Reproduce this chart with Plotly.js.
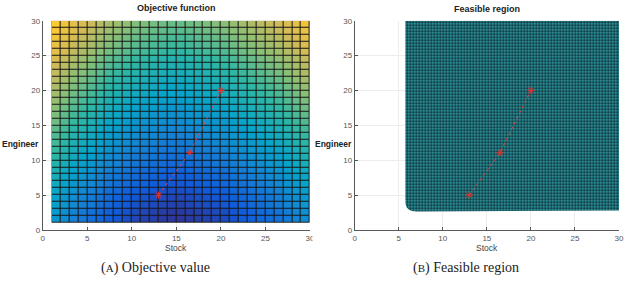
<!DOCTYPE html>
<html><head><meta charset="utf-8">
<script src="https://cdn.plot.ly/plotly-3.0.1.min.js"></script>
<style>html,body{margin:0;padding:0;background:#fff}#c{width:626px;height:287px}</style>
</head><body><div id="c"></div>
<script>
// cell edges of the surface grid
const stockEdges = [1,2,3,4,5,6,7,8,9,10,11,12,13,14,15,16,17,18,19,20,21,22,23,24,25,26,27,28,29,30];
const engineerEdges = [1,2,3,4,5,6,7,8,9,10,11,12,13,14,15,16,17,18,19,20,21,22,23,24,25,26,27,28,29,30];
// objective value per cell (colour level 0-100), rows = engineer 1..29
const objective = [
[33,29,25,22,19,16,13,11,9,7,6,5,4,3,3,4,5,6,7,8,10,12,14,16,18,20,23,26,29],
[34,30,26,23,20,17,14,12,10,8,7,6,5,4,4,5,6,7,8,9,11,13,15,17,19,21,24,27,30],
[36,32,28,25,22,19,16,14,12,10,9,8,7,6,6,7,8,9,10,11,13,15,17,19,21,23,26,29,32],
[37,33,29,26,23,20,17,15,13,11,10,9,8,7,7,8,9,10,11,12,14,16,18,20,22,24,27,30,33],
[39,35,31,28,25,22,19,17,15,13,12,11,10,9,9,10,11,12,13,14,16,18,20,22,24,26,29,32,35],
[41,37,33,30,27,24,21,19,17,15,14,13,12,11,11,12,13,14,15,16,18,20,22,24,26,28,31,34,37],
[43,39,35,32,29,26,23,21,19,17,16,15,14,13,13,14,15,16,17,18,20,22,24,26,28,30,33,36,39],
[45,41,37,34,31,28,25,23,21,19,18,17,16,15,15,16,17,18,19,20,22,24,26,28,30,32,35,38,41],
[47,43,39,36,33,30,27,25,23,21,20,19,18,17,17,18,19,20,21,22,24,26,28,30,32,34,37,40,43],
[49,45,41,38,35,32,29,27,25,23,22,21,20,19,19,20,21,22,23,24,26,28,30,32,34,36,39,42,45],
[51,47,43,40,37,34,31,29,27,25,24,23,22,21,21,22,23,24,25,26,28,30,32,34,36,38,41,44,47],
[53,49,45,42,39,36,33,31,29,27,26,25,24,23,23,24,25,26,27,28,30,32,34,36,38,40,43,46,49],
[55,51,47,44,41,38,35,33,31,29,28,27,26,25,25,26,27,28,29,30,32,34,36,38,40,42,45,48,51],
[57,53,49,46,43,40,37,35,33,31,30,29,28,27,27,28,29,30,31,32,34,36,38,40,42,44,47,50,53],
[59,55,51,48,45,42,39,37,35,33,32,31,30,29,29,30,31,32,33,34,36,38,40,42,44,46,49,52,55],
[61,57,53,50,47,44,41,39,37,35,34,33,32,31,31,32,33,34,35,36,38,40,42,44,46,48,51,54,57],
[63,59,55,52,49,46,43,41,39,37,36,35,34,33,33,34,35,36,37,38,40,42,44,46,48,50,53,56,59],
[65,61,57,54,51,48,45,43,41,39,38,37,36,35,35,36,37,38,39,40,42,44,46,48,50,52,55,58,61],
[67,63,59,56,53,50,47,45,43,41,40,39,38,37,37,38,39,40,41,42,44,46,48,50,52,54,57,60,63],
[69,65,61,58,55,52,49,47,45,43,42,41,40,39,39,40,41,42,43,44,46,48,50,52,54,56,59,62,65],
[71,67,63,60,57,54,51,49,47,45,44,43,42,41,41,42,43,44,45,46,48,50,52,54,56,58,61,64,67],
[73,69,65,62,59,56,53,51,49,47,46,45,44,43,43,44,45,46,47,48,50,52,54,56,58,60,63,66,69],
[75,71,67,64,61,58,55,53,51,49,48,47,46,45,45,46,47,48,49,50,52,54,56,58,60,62,65,68,71],
[77,73,69,66,63,60,57,55,53,51,50,49,48,47,47,48,49,50,51,52,54,56,58,60,62,64,67,70,73],
[80,76,72,69,66,63,60,58,56,54,53,52,51,50,50,51,52,53,54,55,57,59,61,63,65,67,70,73,76],
[82,78,74,71,68,65,62,60,58,56,55,54,53,52,52,53,54,55,56,57,59,61,63,65,67,69,72,75,78],
[84,80,76,73,70,67,64,62,60,58,57,56,55,54,54,55,56,57,58,59,61,63,65,67,69,71,74,77,80],
[86,82,78,75,72,69,66,64,62,60,59,58,57,56,56,57,58,59,60,61,63,65,67,69,71,73,76,79,82],
[88,84,80,77,74,71,68,66,64,62,61,60,59,58,58,59,60,61,62,63,65,67,69,71,73,75,78,81,84]
];
// optimisation path
const pathStock = [13, 16.5, 20];
const pathEngineer = [5, 11.1, 20];
// feasible region boundary
const feasStock    = [5.75, 30, 30, 25, 20, 15, 10, 8, 7, 6.5, 6.15, 5.9, 5.78, 5.75];
const feasEngineer = [30, 30, 2.8, 2.77, 2.74, 2.7, 2.65, 2.62, 2.64, 2.72, 2.92, 3.25, 3.7, 4.5];
// ticks
const tickVals = [0, 5, 10, 15, 20, 25, 30];
const tickLabels = ['0', '5', '10', '15', '20', '25', '30'];

const parula = [[0,'#352a87'],[0.125,'#0f5cdd'],[0.25,'#1481d6'],[0.375,'#06a4ca'],[0.5,'#2eb7a4'],[0.625,'#87bf77'],[0.75,'#d1bb59'],[0.875,'#fec832'],[1,'#f9fb0e']];
const FONT = 'Liberation Sans, Arial, sans-serif';
const W = 626, H = 287;
const px = v => v / W, py = v => 1 - v / H;

const traces = [
  {type:'heatmap', x:[stockEdges[0], stockEdges[stockEdges.length-1]], y:[engineerEdges[0], engineerEdges[engineerEdges.length-1]], z:[[1]],
   colorscale:[[0,'#161616'],[1,'#161616']], showscale:false, hoverinfo:'skip', xaxis:'x', yaxis:'y'},
  {type:'heatmap', x:stockEdges, y:engineerEdges, z:objective, colorscale:parula, zmin:0, zmax:100,
   xgap:1, ygap:1, showscale:false, xaxis:'x', yaxis:'y'},
  {type:'scatter', mode:'lines+markers', x:pathStock, y:pathEngineer, xaxis:'x', yaxis:'y',
   line:{color:'#e04848', width:1, dash:'dot'},
   marker:{symbol:'asterisk-open', size:6, color:'#e03030', line:{width:1, color:'#e03030'}}},
  {type:'scatter', mode:'lines', x:feasStock, y:feasEngineer, fill:'toself', xaxis:'x2', yaxis:'y2',
   fillcolor:'#1f6a72', line:{width:0, color:'#1f6a72'}, hoverinfo:'skip',
   fillpattern:{shape:'+', bgcolor:'#2b8c96', fgcolor:'#0b2a2e', size:3, solidity:0.4}},
  {type:'scatter', mode:'lines+markers', x:pathStock, y:pathEngineer, xaxis:'x2', yaxis:'y2',
   line:{color:'#e04848', width:1, dash:'dot'},
   marker:{symbol:'asterisk-open', size:6, color:'#e03030', line:{width:1, color:'#e03030'}}}
];

function ax(domain, anchor) {
  return {domain:domain, anchor:anchor, range:[0,30], tickvals:tickVals, ticktext:tickLabels,
    ticks:'inside', ticklen:3, tickcolor:'#555', tickwidth:1,
    showgrid:true, gridcolor:'#ececec', zeroline:false, showline:true, linecolor:'#5a5a5a', linewidth:1,
    tickfont:{family:FONT, size:8, color:'#555'}, fixedrange:true};
}

const ann = (text, x, y, size, opts) => Object.assign({text:text, xref:'paper', yref:'paper', x:px(x), y:py(y),
  showarrow:false, xanchor:'center', yanchor:'middle', font:{family:FONT, size:size, color:'#222'}}, opts||{});

const layout = {
  width:W, height:H, margin:{l:0, r:0, t:0, b:0}, paper_bgcolor:'#fff', plot_bgcolor:'#fff', showlegend:false,
  xaxis: ax([px(42.7), px(310)], 'y'),
  yaxis: ax([1 - 230/H, 1 - 20.7/H], 'x'),
  xaxis2: ax([px(354.7), px(619)], 'y2'),
  yaxis2: ax([1 - 230/H, 1 - 20.7/H], 'x2'),
  shapes:[{type:'rect', xref:'paper', yref:'paper', x0:px(312.5), x1:px(318), y0:py(246), y1:py(232),
    fillcolor:'#fff', line:{width:0}, layer:'above'}],
  annotations:[
    ann('<b>Objective function</b>', 176, 8.5, 9),
    ann('<b>Feasible region</b>', 487, 9, 9),
    ann('Stock', 176, 248, 8.5, {font:{family:FONT, size:8.5, color:'#444'}}),
    ann('Stock', 487, 248, 8.5, {font:{family:FONT, size:8.5, color:'#444'}}),
    ann('<b>Engineer</b>', 20, 144, 8.5),
    ann('<b>Engineer</b>', 333, 144, 8.5),
    ann('(<span style="font-size:11px">A</span>) Objective value', 155, 268, 14, {font:{family:'Liberation Serif, serif', size:14, color:'#222'}}),
    ann('(<span style="font-size:11px">B</span>) Feasible region', 466, 268, 14, {font:{family:'Liberation Serif, serif', size:14, color:'#222'}})
  ]
};

Plotly.newPlot('c', traces, layout, {staticPlot:true, displayModeBar:false});
</script>
</body></html>
